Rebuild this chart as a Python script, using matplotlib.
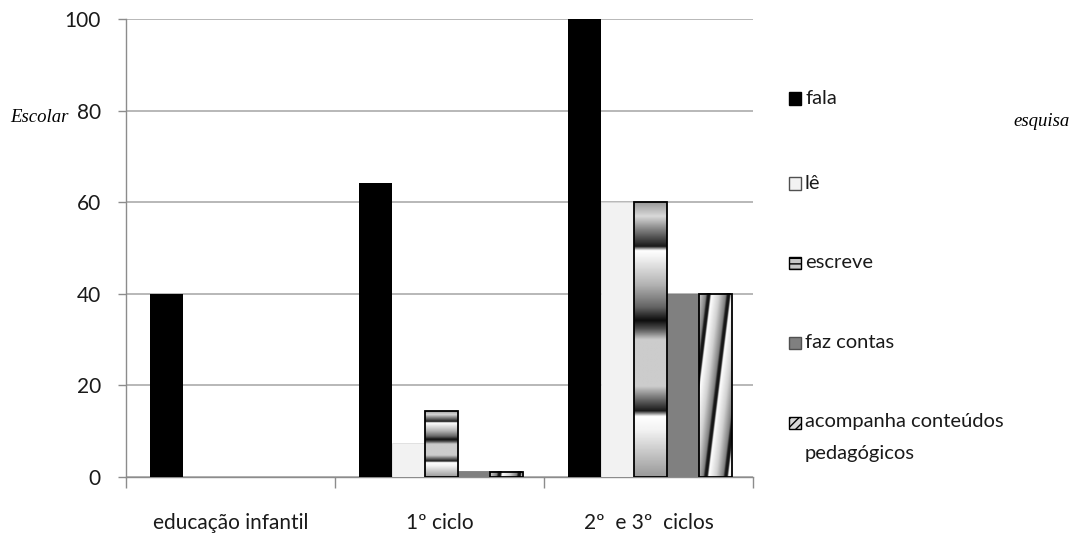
import numpy as np
import matplotlib
matplotlib.use("Agg")
import matplotlib.pyplot as plt
from matplotlib.patches import Rectangle

categories = ["educação infantil", "1º ciclo", "2º  e 3º  ciclos"]
series_names = ["fala", "lê", "escreve", "faz contas", "acompanha conteúdos\npedagógicos"]
fala = [40, 64.3, 100]
le = [0, 7.4, 60]
escreve = [0, 14.4, 60]
faz_contas = [0, 1.3, 40]
acompanha = [0, 1.2, 40]
series_values = [fala, le, escreve, faz_contas, acompanha]
yticks = [0, 20, 40, 60, 80, 100]

W, H = 1073, 534
fig = plt.figure(figsize=(W / 100, H / 100), dpi=100)
ax = fig.add_axes([126 / W, 1 - 477 / H, (753 - 126) / W, (477 - 19) / H])
ax.set_xlim(-0.5, 2.5)
ax.set_ylim(0, 100)

FONT = "Lato"
bw = 0.157
offsets = [(i - 2) * bw + 0.008 for i in range(5)]

# gradient profile for "escreve" (0 = black, 1 = white), top to bottom
prof_pos = [0.0, 0.05, 0.1, 0.16, 0.175, 0.2, 0.3, 0.38, 0.43, 0.46, 0.5, 0.67, 0.72, 0.76, 0.78, 0.83, 1.0]
prof_val = [0.6, 0.85, 0.5, 0.1, 1.0, 0.95, 0.7, 0.4, 0.05, 0.3, 0.8, 0.8, 0.4, 0.1, 1.0, 0.95, 0.6]

px_x = (753 - 126) / 3.0
px_y = (477 - 19) / 100.0


def escreve_img():
    n = 300
    t = np.linspace(0, 1, n)
    v = np.interp(t, prof_pos, prof_val)
    return np.tile(v[:, None], (1, 4))


def diag_img(wpx, hpx):
    nx = max(int(wpx * 3), 4)
    ny = max(int(hpx * 3), 4)
    xs = np.linspace(0, wpx, nx)
    ys = np.linspace(0, hpx, ny)
    X, Y = np.meshgrid(xs, ys)
    period = 20.0
    s = ((X - (Y - hpx) / 8.0 - 10.0) / period) % 1.0
    pp = [0.0, 0.05, 0.12, 0.5, 0.85, 0.93, 1.0]
    pv = [0.08, 0.08, 1.0, 0.82, 0.5, 0.1, 0.08]
    return np.interp(s, pp, pv)


for si, (name, vals) in enumerate(zip(series_names, series_values)):
    for ci, v in enumerate(vals):
        if v <= 0:
            continue
        x0 = ci + offsets[si] - bw / 2
        x1 = x0 + bw
        if si == 0:
            ax.bar(ci + offsets[si], v, bw, color="black", zorder=3)
        elif si == 1:
            ax.bar(ci + offsets[si], v, bw, color="#f2f2f2", edgecolor="#d8d8d8", linewidth=0.5, zorder=3)
        elif si == 3:
            ax.bar(ci + offsets[si], v, bw, color="#808080", edgecolor="#707070", linewidth=0.5, zorder=3)
        elif si == 2:
            ax.imshow(escreve_img(), cmap="gray", vmin=0, vmax=1, extent=[x0, x1, 0, v],
                      aspect="auto", zorder=3, interpolation="bilinear")
            ax.bar(ci + offsets[si], v, bw, facecolor="none", edgecolor="black", linewidth=1.3, zorder=4)
        else:
            img = diag_img(bw * px_x, v * px_y)
            ax.imshow(img, cmap="gray", vmin=0, vmax=1, extent=[x0, x1, 0, v],
                      aspect="auto", zorder=3, interpolation="bilinear", origin="lower")
            ax.bar(ci + offsets[si], v, bw, facecolor="none", edgecolor="black", linewidth=1.3, zorder=4)

ax.set_xlim(-0.5, 2.5)
ax.set_ylim(0, 100)

# grid & spines
ax.set_yticks(yticks)
ax.set_yticklabels([str(t) for t in yticks], fontsize=15, family=FONT)
ax.yaxis.grid(True, color="#ababab", linewidth=1.2, zorder=0)
ax.set_axisbelow(True)
for s in ["top", "right"]:
    ax.spines[s].set_visible(False)
for s in ["left", "bottom"]:
    ax.spines[s].set_color("#8c8c8c")
    ax.spines[s].set_linewidth(1.0)
ax.tick_params(axis="y", length=6, width=1.0, color="#8c8c8c", pad=12, labelcolor="#1a1a1a")

ax.set_xticks([-0.5, 0.5, 1.5, 2.5])
ax.set_xticklabels([])
ax.set_xticks([0, 1, 2], minor=True)
ax.set_xticklabels(categories, minor=True, fontsize=15, family=FONT)
ax.tick_params(axis="x", which="major", length=8, width=1.0, color="#8c8c8c")
ax.tick_params(axis="x", which="minor", length=0, pad=26, labelcolor="#1a1a1a")

# legend drawn manually
leg_y = [98, 183, 262, 342, 422]
face = ["black", "#f2f2f2", "#c8c8c8", "#808080", "#d8d8d8"]
edges = ["black", "#505050", "black", "#505050", "black"]
hatches = [None, None, "---", None, "////"]
for i, name in enumerate(series_names):
    yc = leg_y[i]
    r = Rectangle((789 / W, 1 - (yc + 6.5) / H), 12 / W, 12 / H, transform=fig.transFigure,
                  facecolor=face[i], edgecolor=edges[i], linewidth=1.0, hatch=hatches[i])
    fig.add_artist(r)
    fig.text(805 / W, 1 - yc / H, name.split("\n")[0], fontsize=14.5, family=FONT,
             va="center", ha="left", color="#1a1a1a")
    if "\n" in name:
        fig.text(805 / W, 1 - (yc + 31) / H, name.split("\n")[1], fontsize=14.5, family=FONT,
                 va="center", ha="left", color="#1a1a1a")

# stray fragments of surrounding text
fig.text(10 / W, 1 - 118 / H, "Escolar", fontsize=13.5, family="Liberation Serif", style="italic",
         va="center", ha="left", color="black")
fig.text(1070 / W, 1 - 121 / H, "esquisa", fontsize=13.5, family="Liberation Serif", style="italic",
         va="center", ha="right", color="black")

fig.savefig("out.png", dpi=100)
